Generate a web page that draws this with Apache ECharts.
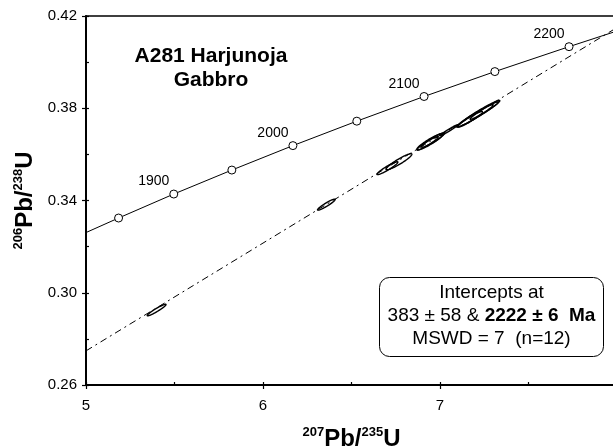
<!DOCTYPE html>
<html>
<head>
<meta charset="utf-8">
<script src="https://cdn.jsdelivr.net/npm/echarts@6/dist/echarts.min.js"></script>
<style>
html, body { margin: 0; padding: 0; background: #fff; }
#chart { width: 613px; height: 448px; }
</style>
</head>
<body>
<div id="chart"></div>
<script>
// concordia age marks (Ma) and their 207Pb/235U, 206Pb/238U ratios
var concAges = [1850, 1900, 1950, 2000, 2050, 2100, 2150, 2200];
var concX = [5.184, 5.496, 5.824, 6.169, 6.530, 6.910, 7.310, 7.729];
var concY = [0.3324, 0.3428, 0.3532, 0.3638, 0.3744, 0.3851, 0.3959, 0.4067];
// where the curve leaves the plot
var concLeft = [5.0, 0.3261];
var concRight = [8.0, 0.4135];

// discordia ends (383 Ma - 2222 Ma chord)
var discX = [5.0, 8.0];
var discY = [0.2748, 0.4150];

// analyses: centre, half-widths and error correlation
var ellX = [5.399, 6.358, 6.703, 6.768, 6.944, 6.960, 6.930, 7.051, 7.216, 7.200, 7.250, 7.170];
var ellY = [0.2925, 0.3382, 0.3540, 0.3568, 0.3655, 0.3662, 0.3648, 0.3705, 0.3776, 0.3768, 0.3790, 0.3752];
var ellSx = [0.053, 0.050, 0.059, 0.073, 0.075, 0.065, 0.060, 0.051, 0.122, 0.100, 0.080, 0.070];
var ellSy = [0.0025, 0.0024, 0.0028, 0.0035, 0.0036, 0.0031, 0.0029, 0.0024, 0.0058, 0.0048, 0.0038, 0.0034];
var ellRho = [0.95, 0.94, 0.94, 0.93, 0.93, 0.94, 0.95, 0.98, 0.975, 0.97, 0.97, 0.95];

var FONT = '"Liberation Sans", Arial, sans-serif';

var chart = echarts.init(document.getElementById('chart'));

var concLine = [concLeft];
for (var i = 0; i < concX.length; i++) concLine.push([concX[i], concY[i]]);
concLine.push(concRight);

var ellData = ellX.map(function (x, i) {
    return [x, ellY[i], ellSx[i], ellSy[i], ellRho[i]];
});

function renderEllipse(params, api) {
    var cx = api.value(0), cy = api.value(1);
    var sx = api.value(2), sy = api.value(3), r = api.value(4);
    var q = Math.sqrt(1 - r * r);
    var pts = [];
    for (var k = 0; k < 90; k++) {
        var t = k / 90 * Math.PI * 2;
        pts.push(api.coord([cx + sx * Math.cos(t), cy + sy * (r * Math.cos(t) + q * Math.sin(t))]));
    }
    return {
        type: 'polygon',
        shape: { points: pts },
        style: { fill: 'none', stroke: '#000', lineWidth: 1.4 }
    };
}

var titleRich = {
    b: { fontSize: 24, fontWeight: 'bold', fontFamily: FONT, color: '#000', lineHeight: 26, verticalAlign: 'middle' },
    s: { fontSize: 13, fontWeight: 'bold', fontFamily: FONT, color: '#000', lineHeight: 14, verticalAlign: 'top' }
};

var option = {
    animation: false,
    backgroundColor: '#fff',
    textStyle: { fontFamily: FONT },
    grid: {
        left: 86, top: 16, width: 531, height: 369,
        outerBoundsMode: 'none',
        show: true, borderColor: '#000', borderWidth: 1.3, backgroundColor: 'transparent'
    },
    xAxis: [{
        type: 'value', min: 5, max: 8, interval: 1,
        axisLine: { show: true, onZero: false, lineStyle: { color: '#000', width: 2 } },
        axisTick: { show: true, length: 4, lineStyle: { color: '#000', width: 1.2 } },
        axisLabel: {
            margin: 13, fontSize: 15, color: '#000', fontFamily: FONT,
            formatter: function (v) { return v === 8 ? '' : String(v); }
        },
        splitLine: { show: false },
        name: '{s|207}{b|Pb/}{s|235}{b|U}',
        nameLocation: 'middle', nameGap: 41,
        nameTextStyle: { rich: titleRich }
    }, {
        type: 'value', min: 5, max: 8, interval: 0.5, position: 'bottom',
        axisLine: { show: false, onZero: false },
        axisTick: { show: true, inside: true, length: 3, lineStyle: { color: '#000', width: 1.2 } },
        axisLabel: { show: false },
        splitLine: { show: false }
    }],
    yAxis: [{
        type: 'value', min: 0.26, max: 0.42, interval: 0.04,
        axisLine: { show: true, onZero: false, lineStyle: { color: '#000', width: 2 } },
        axisTick: { show: true, length: 4, lineStyle: { color: '#000', width: 1.2 } },
        axisLabel: {
            margin: 9, fontSize: 15, color: '#000', fontFamily: FONT,
            formatter: function (v) { return v.toFixed(2); }
        },
        splitLine: { show: false },
        name: '{s|206}{b|Pb/}{s|238}{b|U}',
        nameLocation: 'middle', nameGap: 47, nameRotate: 90,
        nameTextStyle: { rich: titleRich }
    }, {
        type: 'value', min: 0.26, max: 0.42, interval: 0.02, position: 'left',
        axisLine: { show: false, onZero: false },
        axisTick: { show: true, inside: true, length: 3, lineStyle: { color: '#000', width: 1.2 } },
        axisLabel: { show: false },
        splitLine: { show: false }
    }],
    series: [{
        name: 'discordia',
        type: 'line',
        data: discX.map(function (x, i) { return [x, discY[i]]; }),
        showSymbol: false,
        lineStyle: { color: '#000', width: 1, type: [7, 4, 2, 4] },
        z: 2
    }, {
        name: 'concordia',
        type: 'line',
        data: concLine,
        showSymbol: false,
        lineStyle: { color: '#000', width: 1 },
        z: 3
    }, {
        name: 'ages',
        type: 'scatter',
        data: concX.map(function (x, i) { return [x, concY[i], concAges[i]]; }),
        symbol: 'circle', symbolSize: 8,
        itemStyle: { color: '#fff', borderColor: '#000', borderWidth: 1, opacity: 1 },
        label: {
            show: true, position: 'top', offset: [-20, 4],
            fontSize: 14, color: '#000', fontFamily: FONT,
            formatter: function (p) { return p.value[2] % 100 === 0 ? String(p.value[2]) : ''; }
        },
        z: 4
    }, {
        name: 'analyses',
        type: 'custom',
        renderItem: renderEllipse,
        data: ellData,
        clip: true,
        z: 5
    }],
    graphic: [{
        type: 'text', x: 211, y: 68,
        style: {
            text: 'A281 Harjunoja\nGabbro',
            font: 'bold 21px ' + FONT,
            textAlign: 'center', textVerticalAlign: 'middle',
            lineHeight: 24, fill: '#000'
        }
    }, {
        type: 'rect',
        shape: { x: 379.5, y: 277.5, width: 224, height: 79, r: 10 },
        style: { fill: '#fff', stroke: '#000', lineWidth: 1 },
        z: 10
    }, {
        type: 'text', x: 491.5, y: 315.5,
        style: {
            text: 'Intercepts at\n383 ± 58 & {b|2222 ± 6  Ma}\nMSWD = 7  (n=12)',
            font: '19px ' + FONT,
            rich: { b: { fontWeight: 'bold', fontSize: 19, fontFamily: FONT, lineHeight: 23 } },
            textAlign: 'center', textVerticalAlign: 'middle',
            lineHeight: 23, fill: '#000'
        },
        z: 11
    }]
};

chart.setOption(option);
</script>
</body>
</html>
